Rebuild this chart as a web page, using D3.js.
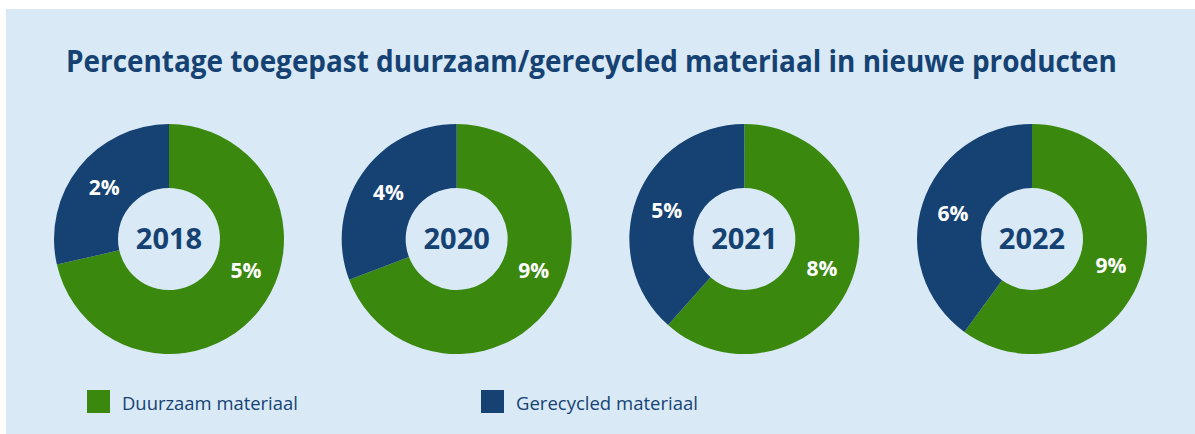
<!DOCTYPE html>
<html>
<head>
<meta charset="utf-8">
<script src="https://cdn.jsdelivr.net/npm/d3@7"></script>
<style>
  body { margin: 0; background: #fff; }
  svg { display: block; font-family: "Open Sans", "Noto Sans", sans-serif; }
</style>
</head>
<body>
<svg id="chart" width="1195" height="434"></svg>
<script>
const title = "Percentage toegepast duurzaam/gerecycled materiaal in nieuwe producten";
const years = ["2018", "2020", "2021", "2022"];
const duurzaam = [5, 9, 8, 9];
const gerecycled = [2, 4, 5, 6];
const seriesNames = ["Duurzaam materiaal", "Gerecycled materiaal"];

const colors = ["#3a880e", "#154273"];
const darkBlue = "#154273";
const bg = "#d9eaf6";

const svg = d3.select("#chart");
const W = 1195, H = 434;

// panel background (white strip at top/left)
svg.append("rect").attr("x", 6).attr("y", 9).attr("width", W - 6).attr("height", H - 9).attr("fill", bg);

// narrow a text horizontally so it spans w pixels from (x, y)
function fit(sel, x, y, w) {
  const len = sel.node().getComputedTextLength();
  sel.attr("x", 0).attr("y", 0)
    .attr("transform", `translate(${x},${y}) scale(${w / len},1)`);
}

const t = svg.append("text")
  .attr("fill", darkBlue)
  .attr("font-size", 31)
  .attr("font-weight", 700)
  .text(title);
fit(t, 66, 72, 1051);

const cy = 239;
const outerR = 115, innerR = 51;
const xScale = d3.scalePoint().domain(years).range([169, 1032]);

const pie = d3.pie().sort(null).value((d) => d.value);
const arc = d3.arc().innerRadius(innerR).outerRadius(outerR);
const labelR = (innerR + outerR) / 2;
const maxLabelAngle = (112 * Math.PI) / 180;

const data = years.map((y, i) => ({
  year: y,
  parts: [
    { key: seriesNames[0], value: duurzaam[i], color: colors[0] },
    { key: seriesNames[1], value: gerecycled[i], color: colors[1] },
  ],
}));

const donuts = svg.selectAll(".donut")
  .data(data)
  .join("g")
  .attr("class", "donut")
  .attr("transform", (d) => `translate(${xScale(d.year)},${cy})`);

donuts.selectAll("path")
  .data((d) => pie(d.parts))
  .join("path")
  .attr("d", arc)
  .attr("fill", (d) => d.data.color);

donuts.selectAll(".pct")
  .data((d) => pie(d.parts))
  .join("text")
  .attr("class", "pct")
  .attr("transform", (d) => {
    let a = (d.startAngle + d.endAngle) / 2;
    if (d.index === 0) a = Math.min(a, maxLabelAngle);
    return `translate(${Math.sin(a) * labelR},${-Math.cos(a) * labelR + 8})`;
  })
  .attr("text-anchor", "middle")
  .attr("fill", "#fff")
  .attr("font-size", 21)
  .attr("font-weight", 700)
  .text((d) => d.data.value + "%");

donuts.append("text")
  .attr("y", 10)
  .attr("text-anchor", "middle")
  .attr("fill", darkBlue)
  .attr("font-size", 29)
  .attr("font-weight", 700)
  .text((d) => d.year);

// legend
const legendX = [87, 481];
const legend = svg.selectAll(".legend")
  .data(seriesNames)
  .join("g")
  .attr("class", "legend")
  .attr("transform", (d, i) => `translate(${legendX[i]},390)`);

legend.append("rect")
  .attr("width", 23).attr("height", 23)
  .attr("fill", (d, i) => colors[i]);

legend.append("text")
  .attr("fill", darkBlue)
  .attr("font-size", 19)
  .text((d) => d)
  .each(function (d, i) {
    fit(d3.select(this), 35, 20, i === 0 ? 176 : 182);
  });
</script>
</body>
</html>
